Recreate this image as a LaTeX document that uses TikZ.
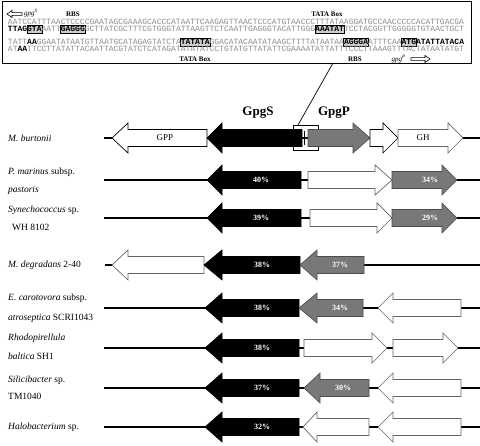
\documentclass[tikz,border=0pt]{standalone}
\usepackage{fontspec}
\setmainfont{Liberation Serif}
\newfontfamily\seqfont{Liberation Mono}
\definecolor{seqgray}{gray}{0.55}
\definecolor{genegray}{gray}{0.47}
\definecolor{boxshade}{gray}{0.80}
\definecolor{outlinegray}{gray}{0.40}
\newcommand\geneL[5]{\draw[#5] ({#2},{#1}) -- ({#3},{#1-15}) -- ({#3},{#1-8.5}) -- ({#4},{#1-8.5}) -- ({#4},{#1+8.5}) -- ({#3},{#1+8.5}) -- ({#3},{#1+15}) -- cycle;}
\newcommand\geneR[5]{\draw[#5] ({#2},{#1-8.5}) -- ({#3},{#1-8.5}) -- ({#3},{#1-15}) -- ({#4},{#1}) -- ({#3},{#1+15}) -- ({#3},{#1+8.5}) -- ({#2},{#1+8.5}) -- cycle;}
\newcommand\seqbox[3]{\filldraw[fill=boxshade, draw=black, line width=0.6pt] ({8+(#2-1)*4.8-0.4},{#1+1.6}) rectangle ({8+#3*4.8+0.4},{#1-6.4});}
\newcommand\gs[1]{\textcolor{seqgray}{#1}}
\newcommand\bs[1]{\textbf{#1}}
\begin{document}
\begin{tikzpicture}[x=1pt,y=-1pt,line join=miter,
  backbone/.style={line width=1.1pt},
  blackgene/.style={fill=black,draw=black,line width=0.6pt},
  graygene/.style={fill=genegray,draw=black!70,line width=0.6pt},
  whitegene/.style={fill=white,draw=black,line width=0.7pt},
  whitegray/.style={fill=white,draw=outlinegray,line width=0.7pt},
  seqtext/.style={inner sep=0pt,outer sep=0pt,anchor=base west,font=\seqfont\fontsize{8}{8}\selectfont},
  seqlabel/.style={inner sep=0pt,font=\bfseries\fontsize{7}{7}\selectfont},
  pct/.style={inner sep=0pt,text=white,font=\bfseries\fontsize{8}{8}\selectfont},
  species/.style={inner sep=0pt,anchor=base west,font=\fontsize{9.5}{9.5}\selectfont},
  genename/.style={inner sep=0pt,font=\fontsize{9}{9}\selectfont},
  protname/.style={inner sep=0pt,font=\bfseries\fontsize{13}{13}\selectfont}]
\useasboundingbox (0,0) rectangle (480,446);
% sequence box
\draw[line width=0.8pt] (2,1) rectangle (471,63);
\seqbox{31.4}{5}{7}
\seqbox{31.4}{12}{16}
\seqbox{31.4}{65}{70}
\seqbox{44.4}{37}{42}
\seqbox{44.4}{71}{75}
\seqbox{44.4}{83}{85}
\node[seqtext] (l1) at (8,24.4) {\gs{AATCCATTTAACTCCCCGAATAGCGAAAGCACCCATAATTCAAGAGTTAACTCCCATGTAACCCTTTATAAGGATGCCAACCCCCACATTGACGA}};
\node[seqtext] (l2) at (8,31.4) {\bs{TTAGGTA}\gs{AATT}\bs{GAGGG}\gs{GCTTATCGCTTTCGTGGGTATTAAGTTCTCAATTGAGGGTACATTGGG}\bs{AAATAT}\gs{TCCTACGGTTGGGGGTGTAACTGCT}};
\node[seqtext] (l3) at (8,44.4) {\gs{TATT}\bs{AA}\gs{GGAATATAATGTTAATGCATAGAGTATCTA}\bs{TATATA}\gs{GGACATACAATATAAGCTTTTATAATAA}\bs{AGGGA}\gs{ATTTCAA}\bs{ATGATATTATACA}};
\node[seqtext] (l4) at (8,51.4) {\gs{AT}\bs{AA}\gs{TTCCTTATATTACAATTACGTATCTCATAGATATATATCCTGTATGTTATATTCGAAAATATTATTTCCCTTAAAGTTTACTATAATATGT}};
% labels in box
\draw[line width=0.6pt] (7,14) -- (12,10.5) -- (12,12.6) -- (22,12.6) -- (22,15.4) -- (12,15.4) -- (12,17.5) -- cycle;
\node[inner sep=0pt,anchor=west,font=\itshape\fontsize{7}{7}\selectfont] (gpgs) at (24,13) {gpg\textsuperscript{S}};
\node[seqlabel] (rbs1) at (73,14) {RBS};
\node[seqlabel] (tata1) at (327,14) {TATA Box};
\node[seqlabel] (tata2) at (195,59) {TATA Box};
\node[seqlabel] (rbs2) at (355,59) {RBS};
\node[inner sep=0pt,anchor=east,font=\itshape\fontsize{7}{7}\selectfont] (gpgp) at (406,59) {gpg\textsuperscript{P}};
\draw[line width=0.6pt] (430,59) -- (425,55.5) -- (425,57.6) -- (411,57.6) -- (411,60.4) -- (425,60.4) -- (425,62.5) -- cycle;
% zoom connector
\coordinate (boxpt) at (333,63);
\draw[line width=0.8pt] (293,125) rectangle (318,150);
\coordinate (sqpt) at (298,125);
\draw[line width=0.7pt] (boxpt) -- (sqpt);
\node[protname] (gpgsn) at (258,113) {GpgS};
\node[protname] (gpgpn) at (334,113) {GpgP};
% row 1 M. burtonii
\draw[backbone] (104,138) -- (480,138);
\geneL{138}{112}{128}{207}{whitegene}
\node[genename] (gpp) at (165,138) {GPP};
\geneL{138}{207}{222}{302}{blackgene}
\draw[line width=0.8pt] (304.5,131) -- (304.5,145);
\geneR{138}{308}{353}{370}{graygene}
\geneR{138}{370}{383}{398}{whitegene}
\geneR{138}{398}{448}{463}{whitegray}
\node[genename] (gh) at (423,138) {GH};
\node[species] (s1) at (8,142) {\itshape M. burtonii};
% row 2
\draw[backbone] (104,180) -- (480,180);
\geneL{180}{207}{222}{301}{blackgene}
\node[pct] (p2a) at (261,180) {40\%};
\geneR{180}{308}{375}{392}{whitegray}
\geneR{180}{392}{442}{457}{graygene}
\node[pct] (p2b) at (430,180) {34\%};
\node[species] (s2a) at (8,175) {\textit{P. marinus} subsp.};
\node[species] (s2b) at (8,193) {\itshape pastoris};
% row 3
\draw[backbone] (104,218) -- (480,218);
\geneL{218}{207}{222}{301}{blackgene}
\node[pct] (p3a) at (261,218) {39\%};
\geneR{218}{310}{377}{392}{whitegray}
\geneR{218}{392}{442}{457}{graygene}
\node[pct] (p3b) at (430,218) {29\%};
\node[species] (s3a) at (8,213) {\textit{Synechococcus} sp.};
\node[species] (s3b) at (12,231) {WH 8102};
% row 4
\draw[backbone] (105,265) -- (480,265);
\geneL{265}{112}{128}{204}{whitegray}
\geneL{265}{204}{222}{300}{blackgene}
\node[pct] (p4a) at (262,265) {38\%};
\geneL{265}{300}{317}{364}{graygene}
\node[pct] (p4b) at (340,265) {37\%};
\node[species] (s4) at (8,268) {\textit{M. degradans} 2-40};
% row 5
\draw[backbone] (104,308) -- (480,308);
\geneL{308}{205}{222}{299}{blackgene}
\node[pct] (p5a) at (262,308) {38\%};
\geneL{308}{299}{317}{363}{graygene}
\node[pct] (p5b) at (340,308) {34\%};
\geneL{308}{378}{393}{461}{whitegray}
\node[species] (s5a) at (8,301) {\textit{E. carotovora} subsp.};
\node[species] (s5b) at (8,321) {\textit{atroseptica} SCRI1043};
% row 6
\draw[backbone] (104,348) -- (480,348);
\geneL{348}{205}{222}{299}{blackgene}
\node[pct] (p6a) at (262,348) {38\%};
\geneR{348}{304}{372}{387}{whitegray}
\geneR{348}{393}{443}{458}{whitegray}
\node[species] (s6a) at (8,341) {\itshape Rhodopirellula};
\node[species] (s6b) at (8,360) {\textit{baltica} SH1};
% row 7
\draw[backbone] (104,388) -- (480,388);
\geneL{388}{205}{222}{299}{blackgene}
\node[pct] (p7a) at (262,388) {37\%};
\geneL{388}{304}{320}{369}{graygene}
\node[pct] (p7b) at (343,388) {30\%};
\geneL{388}{378}{393}{461}{whitegray}
\node[species] (s7a) at (8,383) {\textit{Silicibacter} sp.};
\node[species] (s7b) at (8,400) {TM1040};
% row 8
\draw[backbone] (104,427) -- (480,427);
\geneL{427}{205}{222}{299}{blackgene}
\node[pct] (p8a) at (262,427) {32\%};
\geneL{427}{303}{317}{369}{whitegray}
\geneL{427}{378}{393}{461}{whitegray}
\node[species] (s8) at (8,430) {\textit{Halobacterium} sp.};
\end{tikzpicture}
\end{document}
